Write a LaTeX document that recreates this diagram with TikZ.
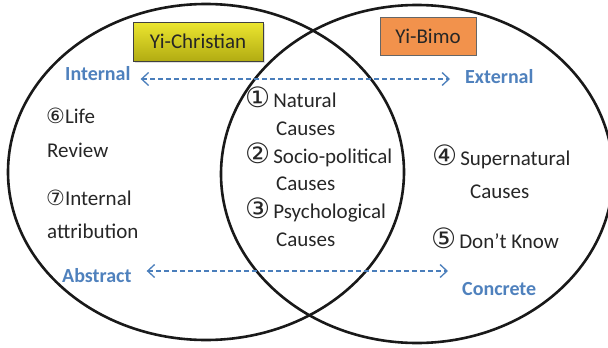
\documentclass[tikz,border=0pt]{standalone}
\usepackage{fontspec}
\setmainfont{Carlito}
\newfontfamily\symfont{DejaVu Sans}
\usetikzlibrary{arrows.meta,positioning,shadows}
\definecolor{labelblue}{RGB}{79,129,189}
\definecolor{arrowblue}{RGB}{74,126,187}
\definecolor{christtop}{RGB}{236,230,48}
\definecolor{christbot}{RGB}{178,172,18}
\definecolor{bimoorange}{RGB}{242,146,76}
\tikzset{
  bidir/.style={{Straight Barb[length=7pt,width=13pt]}-{Straight Barb[length=7pt,width=13pt]},
    dash pattern=on 5pt off 3pt,line width=1.3pt,draw=arrowblue},
}
\newcommand{\cnum}[1]{{\symfont\fontsize{28}{28}\selectfont #1}\hspace{3pt}}
\newcommand{\snum}[1]{{\symfont\fontsize{21}{21}\selectfont #1}}

\begin{document}
\begin{tikzpicture}[x=1pt,y=-1pt,
        venn/.style={line width=2.6pt,draw=black!90},
        group/.style={rectangle,draw=black!75,line width=0.9pt,align=center,
        font={\fontsize{21}{21}\selectfont},text=black!85},
        side/.style={font={\fontsize{20}{20}\selectfont\bfseries},text=labelblue,
        inner sep=0pt,anchor=base west},
        cause/.style={font={\fontsize{21}{21}\selectfont},text=black!85,
        inner sep=0pt,anchor=base west}
        ]
    \useasboundingbox (0,0) rectangle (608,348);

    % the two circles
    \draw[venn] (206,172) ellipse [x radius=198, y radius=168];
    \draw[venn] (417,174) ellipse [x radius=196, y radius=169];

    % group boxes
    \node[group, minimum width=130pt, minimum height=39pt, top color=christtop,
      bottom color=christbot, drop shadow={opacity=0.25,shadow xshift=1.5pt,shadow yshift=-1.5pt}]
      (christian) at (198,41.5) {Yi-Christian};
    \node[group, minimum width=96pt, minimum height=38pt, fill=bimoorange,
      draw=black!60] (bimo) at (428,36) {Yi-Bimo};

    % side labels
    \node[side] (internal) at (65,80) {Internal};
    \node[side] (external) at (465,83) {External};
    \node[side] (abstract) at (62,282) {Abstract};
    \node[side] (concrete) at (462,295) {Concrete};

    % left circle only
    \node[cause] (life) at (46,123) {\snum{⑥}Life};
    \node[cause] (review) at (47,157) {Review};
    \node[cause] (intattr) at (46,205) {\snum{⑦}Internal};
    \node[cause] (attr) at (47,238) {attribution};

    % overlap
    \node[cause] (natural) at (245,107) {\cnum{①}Natural};
    \node[cause] (natural2) at (276,135) {Causes};
    \node[cause] (socio) at (245,163) {\cnum{②}Socio-political};
    \node[cause] (socio2) at (276,190) {Causes};
    \node[cause] (psych) at (245,218) {\cnum{③}Psychological};
    \node[cause] (psych2) at (276,246) {Causes};

    % right circle only
    \node[cause] (super) at (432,165) {\cnum{④}Supernatural};
    \node[cause] (super2) at (470,198) {Causes};
    \node[cause] (dontknow) at (431,248) {\cnum{⑤}Don’t Know};

    % dimensions
    \draw[bidir, shorten <=10pt, shorten >=15pt] (internal.base east) ++(0,-1) coordinate (intend)
      -- (intend -| external.west);
    \draw[bidir, shorten <=15pt, shorten >=14pt] (abstract.base east) ++(0,-11) coordinate (absend)
      -- (absend -| concrete.west);

  \end{tikzpicture}
\end{document}
